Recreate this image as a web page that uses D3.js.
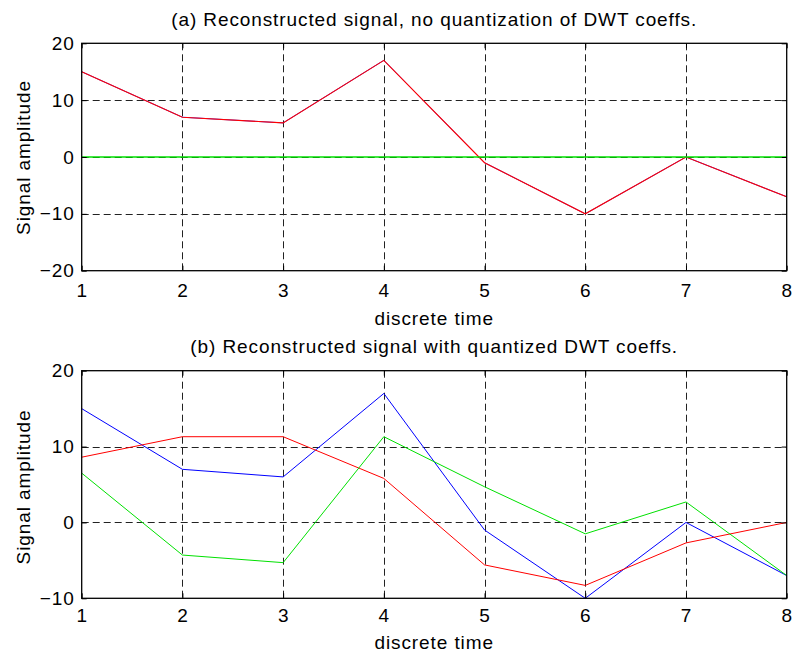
<!DOCTYPE html>
<html><head><meta charset="utf-8">
<script src="https://cdn.jsdelivr.net/npm/d3@7"></script>
<style>body{margin:0;background:#fff}text{font-family:"Liberation Sans",Arial,sans-serif;fill:#000;letter-spacing:0.9px}</style>
</head><body><svg id="c" width="794" height="655"></svg>
<script>
const timeSteps = [1,2,3,4,5,6,7,8];
const original = [15,7,6,17,-1,-10,0,-7];
const reconA = [15,7,6,17,-1,-10,0,-7];
const errorA = [0,0,0,0,0,0,0,0];
const reconB = [8.6,11.3,11.3,5.8,-5.6,-8.3,-2.7,0];
const errorB = [6.5,-4.3,-5.3,11.3,4.7,-1.5,2.7,-7];
const yTicksA = [-20,-10,0,10,20];
const yTicksB = [-10,0,10,20];
const titles = ["(a) Reconstructed signal, no quantization of DWT coeffs.","(b) Reconstructed signal with quantized DWT coeffs."];

const FS = 19;
const svg = d3.select("#c");
const x = d3.scaleLinear().domain([1,8]).range([81.7,786.7]);

function panel(top, bottom, yDomain, yTicks, title, series, lay){
  const y = d3.scaleLinear().domain(yDomain).range([bottom, top]);
  const g = svg.append("g");
  // grid
  g.selectAll(".gx").data(timeSteps.slice(1,-1)).enter().append("line")
    .attr("x1",d=>Math.round(x(d))+0.5).attr("x2",d=>Math.round(x(d))+0.5)
    .attr("y1",top).attr("y2",bottom)
    .attr("stroke","#222").attr("stroke-width",1).attr("stroke-dasharray","7,4");
  g.selectAll(".gy").data(yTicks.slice(1,-1)).enter().append("line")
    .attr("y1",d=>Math.round(y(d))+0.5).attr("y2",d=>Math.round(y(d))+0.5)
    .attr("x1",x(1)).attr("x2",x(8))
    .attr("stroke","#222").attr("stroke-width",1).attr("stroke-dasharray","7,4");
  // series
  const line = d3.line().x((d,i)=>x(timeSteps[i])).y(d=>y(d));
  series.forEach(s=>{
    g.append("path").attr("d",line(s.v)).attr("fill","none")
     .attr("stroke",s.c).attr("stroke-width",s.w||1);
  });
  // frame
  g.append("rect").attr("x",x(1)).attr("y",top).attr("width",x(8)-x(1)).attr("height",bottom-top)
   .attr("fill","none").attr("stroke","#000").attr("stroke-width",1.3);
  // axes with inward ticks
  const ax = d3.axisBottom(x).tickValues(timeSteps).tickSize(-5).tickPadding(0).tickFormat(d3.format("d"));
  g.append("g").attr("transform",`translate(0,${bottom})`).call(ax)
   .call(a=>{a.select(".domain").remove();a.selectAll("text").attr("font-size",FS).attr("y",lay.tick).attr("dy",null);});
  g.append("g").attr("transform",`translate(0,${top})`).call(d3.axisTop(x).tickValues(timeSteps).tickSize(-5).tickFormat(""))
   .call(a=>a.select(".domain").remove());
  const ay = d3.axisLeft(y).tickValues(yTicks).tickSize(-5).tickPadding(7).tickFormat(d3.format("d"));
  g.append("g").attr("transform",`translate(${x(1)},0)`).call(ay)
   .call(a=>{a.select(".domain").remove();a.selectAll("text").attr("font-size",FS);});
  g.append("g").attr("transform",`translate(${x(8)},0)`).call(d3.axisRight(y).tickValues(yTicks).tickSize(-5).tickFormat(""))
   .call(a=>a.select(".domain").remove());
  g.selectAll(".tick line").attr("stroke","#000");
  g.selectAll(".tick text").attr("fill","#000").attr("font-family","Liberation Sans, Arial, sans-serif");
  // labels
  g.append("text").attr("x",(x(1)+x(8))/2).attr("y",bottom+lay.xl).attr("text-anchor","middle").attr("font-size",FS).text("discrete time");
  g.append("text").attr("transform",`translate(29.5,${(top+bottom)/2+lay.yl}) rotate(-90)`).attr("text-anchor","middle").attr("font-size",FS).text("Signal amplitude");
  g.append("text").attr("x",(x(1)+x(8))/2).attr("y",top-17.8).attr("text-anchor","middle").attr("font-size",FS).text(title);
}

panel(43.3, 270.7, [-20,20], yTicksA, titles[0], [
  {v:original, c:"#0000ff", w:0.8},
  {v:reconA, c:"#ff0000", w:1.1},
  {v:errorA, c:"#00e000", w:1.6}
], {tick:26, xl:54, yl:0.5});
panel(370.7, 598.3, [-10,20], yTicksB, titles[1], [
  {v:original, c:"#0000ff"},
  {v:reconB, c:"#ff0000"},
  {v:errorB, c:"#00e000"}
], {tick:24, xl:51, yl:2.5});
</script></body></html>
